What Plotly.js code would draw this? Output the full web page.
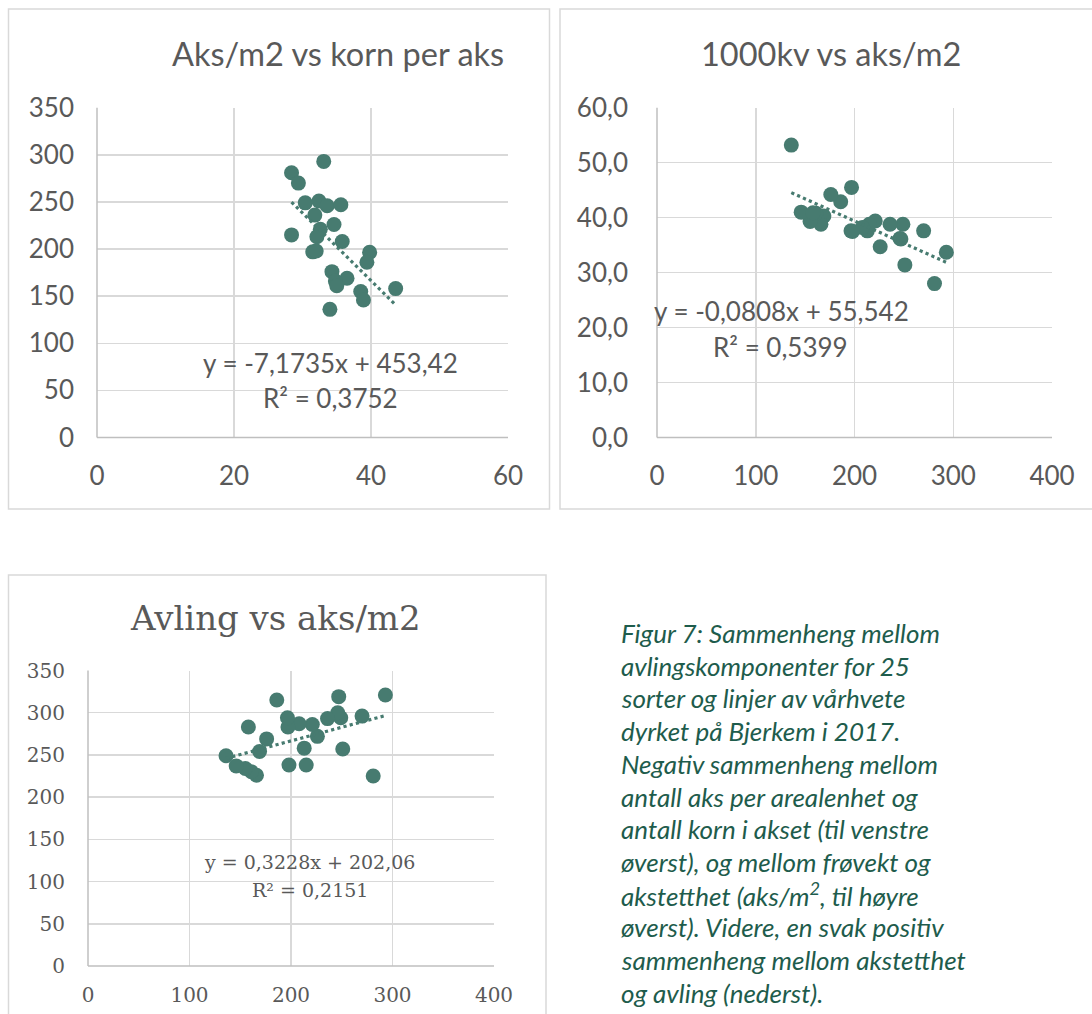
<!DOCTYPE html>
<html>
<head>
<meta charset="utf-8">
<script src="https://cdn.plot.ly/plotly-3.0.1.min.js"></script>
<style>
html,body{margin:0;padding:0;background:#fff;}
#chart{width:1092px;height:1014px;}
</style>
</head>
<body>
<div id="chart"></div>
<script>
// Data: 25 varieties/lines of spring wheat, Bjerkem 2017
const kornPerAks = [33.1, 28.4, 29.4, 30.4, 32.4, 33.6, 35.6, 31.8, 34.6, 32.6, 32.1, 28.4, 35.8, 31.5, 39.8, 39.4, 34.3, 36.5, 34.8, 35.0, 38.5, 38.9, 43.6, 34.0, 32.0];
const aksM2      = [293, 281, 270, 249, 251, 246, 247, 236, 226, 221, 213, 215, 208, 197, 196.5, 186, 176, 169, 166, 161, 155, 146, 158, 136, 198];
const tusenkv    = [33.7, 28.0, 37.6, 38.8, 31.4, 36.2, 36.1, 38.8, 34.7, 39.4, 37.6, 38.8, 38.2, 45.5, 37.6, 42.9, 44.2, 40.3, 38.8, 40.8, 39.3, 41.0, 40.9, 53.2, 37.5];
const avling     = [321, 225, 296, 294, 257, 300, 319, 293, 272, 286, 258, 238, 287, 283, 294, 315, 269, 254, 226, 230, 234, 237, 283, 249, 238];

// Trendline coefficients (as printed on the charts)
const trend1 = {slope: -7.1735, intercept: 453.42, eq: "y = -7,1735x + 453,42", r2: "R² = 0,3752"};
const trend2 = {slope: -0.0808, intercept: 55.542, eq: "y = -0,0808x + 55,542", r2: "R² = 0,5399"};
const trend3 = {slope: 0.3228, intercept: 202.06, eq: "y = 0,3228x + 202,06", r2: "R² = 0,2151"};

const titles = ["Aks/m2 vs korn per aks", "1000kv vs aks/m2", "Avling vs aks/m2"];
const captionLines = [
  "Figur 7: Sammenheng mellom",
  "avlingskomponenter for 25",
  "sorter og linjer av vårhvete",
  "dyrket på Bjerkem i 2017.",
  "Negativ sammenheng mellom",
  "antall aks per arealenhet og",
  "antall korn i akset (til venstre",
  "øverst), og mellom frøvekt og",
  "akstetthet (aks/m<sup>2</sup>, til høyre",
  "øverst). Videre, en svak positiv",
  "sammenheng mellom akstetthet",
  "og avling (nederst)."
];

const W = 1092, H = 1014;
const px = x => x / W;
const py = y => 1 - y / H;

const MC = "#477B70";
const GRID = "#d9d9d9";
const AXL = "#bfbfbf";
const TXT = "#595959";
const SANS = "Lato, 'Open Sans', sans-serif";
const SERIF = "'DejaVu Serif', 'Liberation Serif', serif";

function trendTrace(xs, t, xa, ya) {
  const x0 = Math.min(...xs), x1 = Math.max(...xs);
  return {x: [x0, x1], y: [t.slope * x0 + t.intercept, t.slope * x1 + t.intercept],
    xaxis: xa, yaxis: ya, mode: "lines", hoverinfo: "skip",
    line: {color: MC, width: 3.2, dash: "dot"}};
}
function pts(xs, ys, xa, ya) {
  return {x: xs, y: ys, xaxis: xa, yaxis: ya, mode: "markers", type: "scatter",
    marker: {color: MC, size: 15, line: {width: 0}}};
}

const data = [
  pts(kornPerAks, aksM2, "x", "y"),
  trendTrace(kornPerAks, trend1, "x", "y"),
  pts(aksM2, tusenkv, "x2", "y2"),
  trendTrace(aksM2, trend2, "x2", "y2"),
  pts(aksM2, avling, "x3", "y3"),
  trendTrace(aksM2, trend3, "x3", "y3")
];

function ax(domain, range, dtick, font, standoff, extra) {
  return Object.assign({
    domain: domain, range: range, dtick: dtick, tick0: 0,
    showgrid: true, gridcolor: GRID, gridwidth: 1.5,
    zeroline: false, showline: false,
    ticks: "", tickfont: font, ticklabelstandoff: standoff,
    fixedrange: true
  }, extra || {});
}
const fSans = {family: SANS, size: 26, color: TXT};
const fSerif = {family: SERIF, size: 20, color: TXT};
const fSerifEq = {family: SERIF, size: 19, color: TXT};

const layout = {
  width: W, height: H,
  margin: {l: 0, r: 0, t: 0, b: 0},
  paper_bgcolor: "#fff", plot_bgcolor: "#fff",
  showlegend: false,
  separators: ", ",
  xaxis:  ax([px(97), px(508)], [0, 60], 20, fSans, 20, {anchor: "y"}),
  yaxis:  ax([py(437.5), py(107.7)], [0, 350], 50, fSans, 22, {anchor: "x"}),
  xaxis2: ax([px(657), px(1052)], [0, 400], 100, fSans, 20, {anchor: "y2"}),
  yaxis2: ax([py(437.5), py(107.7)], [0, 60], 10, fSans, 28, {anchor: "x2", tickformat: ".1f"}),
  xaxis3: ax([px(88), px(494)], [0, 400], 100, fSerif, 15, {anchor: "y3"}),
  yaxis3: ax([py(966), py(670.5)], [0, 350], 50, fSerif, 22, {anchor: "x3"}),
  shapes: [
    // chart frames
    {type: "rect", xref: "paper", yref: "paper", x0: px(8.5), x1: px(549.5), y0: py(509), y1: py(9), line: {color: GRID, width: 1.5}},
    {type: "rect", xref: "paper", yref: "paper", x0: px(560), x1: px(1100), y0: py(509), y1: py(9), line: {color: GRID, width: 1.5}},
    {type: "rect", xref: "paper", yref: "paper", x0: px(8.5), x1: px(546), y0: py(1030), y1: py(575), line: {color: GRID, width: 1.5}},
    // axis lines (left + bottom)
    {type: "line", xref: "paper", yref: "paper", x0: px(97), x1: px(97), y0: py(437.5), y1: py(107.7), line: {color: AXL, width: 1.5}},
    {type: "line", xref: "paper", yref: "paper", x0: px(97), x1: px(508), y0: py(437.5), y1: py(437.5), line: {color: AXL, width: 1.5}},
    {type: "line", xref: "paper", yref: "paper", x0: px(657), x1: px(657), y0: py(437.5), y1: py(107.7), line: {color: AXL, width: 1.5}},
    {type: "line", xref: "paper", yref: "paper", x0: px(657), x1: px(1052), y0: py(437.5), y1: py(437.5), line: {color: AXL, width: 1.5}},
    {type: "line", xref: "paper", yref: "paper", x0: px(88), x1: px(88), y0: py(966), y1: py(670.5), line: {color: AXL, width: 1.5}},
    {type: "line", xref: "paper", yref: "paper", x0: px(88), x1: px(494), y0: py(966), y1: py(966), line: {color: AXL, width: 1.5}}
  ],
  annotations: []
};

function note(text, x, y, font, xanchor) {
  layout.annotations.push({text: text, xref: "paper", yref: "paper", x: px(x), y: py(y),
    xanchor: xanchor || "center", yanchor: "middle", showarrow: false, font: font});
}
note(titles[0], 338, 53, {family: SANS, size: 32.5, color: TXT});
note(titles[1], 831, 53, {family: SANS, size: 32.5, color: TXT});
note(titles[2], 275, 618, {family: SERIF, size: 34, color: TXT});

note(trend1.eq, 330, 363, fSans);
note(trend1.r2, 330, 398, fSans);
note(trend2.eq, 781, 311, fSans);
note(trend2.r2, 780, 347, fSans);
note(trend3.eq, 309, 862, fSerifEq);
note(trend3.r2, 310, 890, fSerifEq);

const capFont = {family: SANS, size: 26, color: "#1E5C4C", style: "italic"};
captionLines.forEach((t, i) => {
  note("<i>" + t + "</i>", 619, 633 + i * 32.7, capFont, "left");
});

Plotly.newPlot("chart", data, layout, {displayModeBar: false, staticPlot: true});
</script>
</body>
</html>
